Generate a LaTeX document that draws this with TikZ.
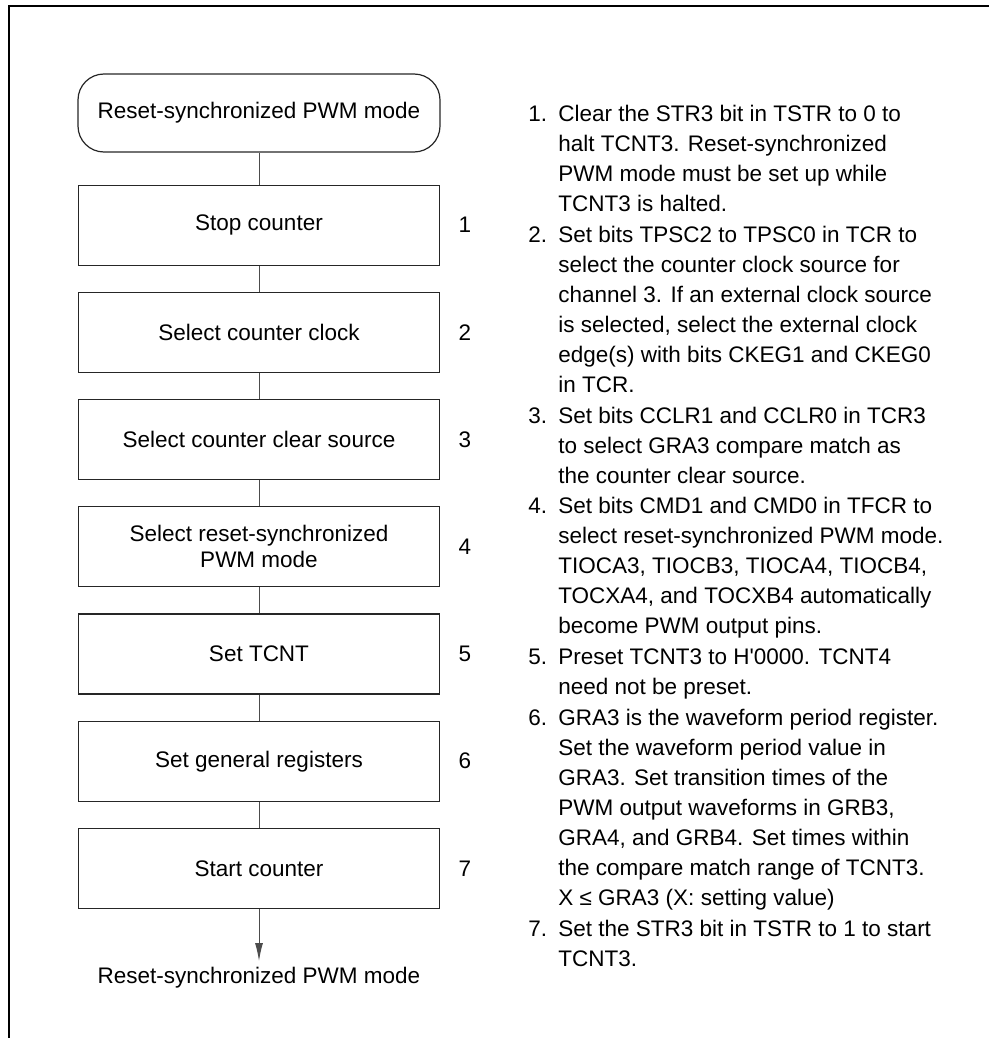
\documentclass[tikz,border=0pt]{standalone}
\usepackage{fontspec}
\setmainfont{Liberation Sans}
\usetikzlibrary{positioning,arrows.meta}

\begin{document}
\begin{tikzpicture}
		% styles
		\tikzset{
			every node/.style={font=\fontsize{11.25pt}{13pt}\selectfont},
			term/.style={draw=black!85, line width=0.6pt, rectangle, rounded corners=13pt, minimum width=181pt, minimum height=39pt, align=center, inner sep=2pt},
			block/.style={draw=black!85, line width=0.6pt, rectangle, minimum width=180.5pt, minimum height=40pt, align=center, inner sep=2pt},
			link/.style={draw=black!70, line width=0.5pt},
			note/.style={inner sep=0pt, anchor=north west, font=\fontsize{11.25pt}{15pt}\selectfont}
		}
		\useasboundingbox (0,0) rectangle (494.5pt,-519pt);

		% frame
		\draw[line width=1pt] (4.5pt,-519pt) -- (4.5pt,-3pt) -- (494.5pt,-3pt);

		% nodes
		\node[term] (start) at (129.5pt,-56.5pt) {Reset-synchronized PWM mode};
		\node[block, below=16pt of start] (stop) {Stop counter};
		\node[block, below=13pt of stop] (clock) {Select counter clock};
		\node[block, below=13pt of clock] (clear) {Select counter clear source};
		\node[block, below=13pt of clear] (mode) {Select reset-synchronized\\PWM mode};
		\node[block, below=13pt of mode] (tcnt) {Set TCNT};
		\node[block, below=13pt of tcnt] (greg) {Set general registers};
		\node[block, below=13pt of greg] (run) {Start counter};
		\coordinate[below=26pt of run] (endpt);
		\node[below=3pt of endpt, inner sep=0pt] (exit) {Reset-synchronized PWM mode};

		% step numbers
		\foreach \b/\n in {stop/1, clock/2, clear/3, mode/4, tcnt/5, greg/6, run/7}
			\node[right=9pt of \b, inner sep=0pt] (num\n) {\n};

		% connections
		\draw[link] (start) -- (stop);
		\draw[link] (stop) -- (clock);
		\draw[link] (clock) -- (clear);
		\draw[link] (clear) -- (mode);
		\draw[link] (mode) -- (tcnt);
		\draw[link] (tcnt) -- (greg);
		\draw[link] (greg) -- (run);
		\draw[link, -{Latex[length=9pt,width=4pt]}] (run) -- (endpt);

		% notes
		\node[note] (s1) at (264pt,-50pt) {\begin{tabular}{@{}l@{\hspace{5.6pt}}l@{}}
			1. & Clear the STR3 bit in TSTR to 0 to\\
			& halt TCNT3. Reset-synchronized\\
			& PWM mode must be set up while\\
			& TCNT3 is halted.
		\end{tabular}};
		\node[note] (s2) at (s1.south west) {\begin{tabular}{@{}l@{\hspace{5.6pt}}l@{}}
			2. & Set bits TPSC2 to TPSC0 in TCR to\\
			& select the counter clock source for\\
			& channel 3. If an external clock source\\
			& is selected, select the external clock\\
			& edge(s) with bits CKEG1 and CKEG0\\
			& in TCR.
		\end{tabular}};
		\node[note] (s3) at (s2.south west) {\begin{tabular}{@{}l@{\hspace{5.6pt}}l@{}}
			3. & Set bits CCLR1 and CCLR0 in TCR3\\
			& to select GRA3 compare match as\\
			& the counter clear source.
		\end{tabular}};
		\node[note] (s4) at (s3.south west) {\begin{tabular}{@{}l@{\hspace{5.6pt}}l@{}}
			4. & Set bits CMD1 and CMD0 in TFCR to\\
			& select reset-synchronized PWM mode.\\
			& TIOCA3, TIOCB3, TIOCA4, TIOCB4,\\
			& TOCXA4, and TOCXB4 automatically\\
			& become PWM output pins.
		\end{tabular}};
		\node[note] (s5) at (s4.south west) {\begin{tabular}{@{}l@{\hspace{5.6pt}}l@{}}
			5. & Preset TCNT3 to H\textquotesingle 0000. TCNT4\\
			& need not be preset.
		\end{tabular}};
		\node[note] (s6) at (s5.south west) {\begin{tabular}{@{}l@{\hspace{5.6pt}}l@{}}
			6. & GRA3 is the waveform period register.\\
			& Set the waveform period value in\\
			& GRA3. Set transition times of the\\
			& PWM output waveforms in GRB3,\\
			& GRA4, and GRB4. Set times within\\
			& the compare match range of TCNT3.\\
			& X ≤ GRA3 (X: setting value)
		\end{tabular}};
		\node[note] (s7) at (s6.south west) {\begin{tabular}{@{}l@{\hspace{5.6pt}}l@{}}
			7. & Set the STR3 bit in TSTR to 1 to start\\
			& TCNT3.
		\end{tabular}};
\end{tikzpicture}
\end{document}
